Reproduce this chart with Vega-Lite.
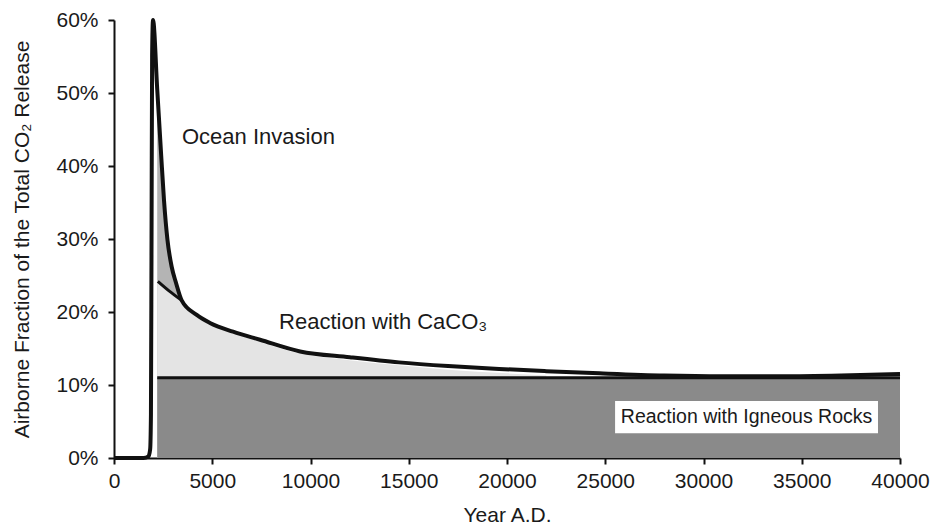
{
  "$schema": "https://vega.github.io/schema/vega-lite/v6.json",
  "width": 786,
  "height": 438,
  "autosize": {"type": "none"},
  "padding": {"left": 114, "top": 20, "right": 32, "bottom": 71},
  "background": "white",
  "config": {
    "view": {"stroke": null},
    "font": "Liberation Sans",
    "axis": {
      "grid": false,
      "domainColor": "#111",
      "domainWidth": 2,
      "tickColor": "#111",
      "tickWidth": 2,
      "tickSize": 6,
      "labelFlush": false,
      "labelFont": "Liberation Sans",
      "labelFontSize": 21,
      "labelColor": "#1a1a1a",
      "titleFont": "Liberation Sans",
      "titleFontSize": 21,
      "titleFontWeight": "normal",
      "titleColor": "#1a1a1a"
    }
  },
  "datasets": {
    "total": [
      {"year": 0, "v": 0}, {"year": 1500, "v": 0}, {"year": 1750, "v": 0.002},
      {"year": 1840, "v": 0.012}, {"year": 1880, "v": 0.06}, {"year": 1910, "v": 0.3},
      {"year": 1940, "v": 0.55}, {"year": 1985, "v": 0.6}, {"year": 2200, "v": 0.505},
      {"year": 2400, "v": 0.415}, {"year": 2545, "v": 0.353}, {"year": 2720, "v": 0.299},
      {"year": 2935, "v": 0.262}, {"year": 3155, "v": 0.24}, {"year": 3445, "v": 0.216},
      {"year": 4210, "v": 0.196}, {"year": 4885, "v": 0.185},
      {"year": 6060, "v": 0.173}, {"year": 7430, "v": 0.162}, {"year": 9470, "v": 0.146},
      {"year": 12000, "v": 0.138}, {"year": 14500, "v": 0.131}, {"year": 17000, "v": 0.126},
      {"year": 19600, "v": 0.122}, {"year": 22000, "v": 0.119}, {"year": 24700, "v": 0.116},
      {"year": 28000, "v": 0.113}, {"year": 31000, "v": 0.112}, {"year": 34000, "v": 0.112},
      {"year": 37000, "v": 0.113}, {"year": 40000, "v": 0.115}
    ],
    "ocean": [
      {"year": 2200, "v": 0.505}, {"year": 2400, "v": 0.415}, {"year": 2545, "v": 0.353},
      {"year": 2720, "v": 0.299}, {"year": 2935, "v": 0.262}, {"year": 3155, "v": 0.24},
      {"year": 3445, "v": 0.216}
    ],
    "caco3": [
      {"year": 2230, "v": 0.242}, {"year": 2800, "v": 0.229}, {"year": 3445, "v": 0.216}
    ],
    "light": [
      {"year": 2200, "v": 0.243}, {"year": 2800, "v": 0.229}, {"year": 3445, "v": 0.214},
      {"year": 4210, "v": 0.194}, {"year": 4885, "v": 0.183},
      {"year": 6060, "v": 0.171}, {"year": 7430, "v": 0.159}, {"year": 9470, "v": 0.143},
      {"year": 12000, "v": 0.134}, {"year": 14500, "v": 0.127}, {"year": 17000, "v": 0.121},
      {"year": 20000, "v": 0.116}, {"year": 22000, "v": 0.113}
    ],
    "igneous": [
      {"x0": 2200, "x1": 40000, "lo": 0, "hi": 0.11}
    ],
    "labels": [
      {"year": 3460, "v": 0.44, "text": "Ocean Invasion"},
      {"year": 8400, "v": 0.186, "text": "Reaction with CaCO₃"}
    ],
    "box": [
      {"x0": 25500, "x1": 38880, "lo": 0.034, "hi": 0.078, "xc": 32190, "yc": 0.056, "text": "Reaction with Igneous Rocks"}
    ]
  },
  "layer": [
    {
      "data": {"name": "ocean"},
      "mark": {"type": "area", "color": "#b4b4b4", "opacity": 1, "interpolate": "monotone"},
      "encoding": {
        "x": {"field": "year", "type": "quantitative", "scale": {"domain": [0, 40000]},
          "axis": {"values": [0, 5000, 10000, 15000, 20000, 25000, 30000, 35000, 40000], "format": "d", "title": "Year A.D.", "labelPadding": 6, "titlePadding": 13}},
        "y": {"field": "v", "type": "quantitative", "scale": {"domain": [0, 0.6]},
          "axis": {"values": [0, 0.1, 0.2, 0.3, 0.4, 0.5, 0.6], "format": ".0%", "title": "Airborne Fraction of the Total CO₂ Release", "labelPadding": 10, "titlePadding": 23}},
        "y2": {"datum": 0}
      }
    },
    {
      "data": {"name": "light"},
      "mark": {"type": "area", "color": "#e4e4e4", "opacity": 1, "interpolate": "monotone"},
      "encoding": {
        "x": {"field": "year", "type": "quantitative"},
        "y": {"field": "v", "type": "quantitative"},
        "y2": {"datum": 0}
      }
    },
    {
      "data": {"name": "igneous"},
      "mark": {"type": "rect", "color": "#8a8a8a"},
      "encoding": {
        "x": {"field": "x0", "type": "quantitative"},
        "x2": {"field": "x1"},
        "y": {"field": "lo", "type": "quantitative"},
        "y2": {"field": "hi"}
      }
    },
    {
      "data": {"name": "igneous"},
      "mark": {"type": "rule", "color": "#111", "strokeWidth": 3},
      "encoding": {
        "x": {"field": "x0", "type": "quantitative"},
        "x2": {"field": "x1"},
        "y": {"field": "hi", "type": "quantitative"}
      }
    },
    {
      "data": {"name": "caco3"},
      "mark": {"type": "line", "color": "#111", "strokeWidth": 3, "interpolate": "monotone"},
      "encoding": {
        "x": {"field": "year", "type": "quantitative"},
        "y": {"field": "v", "type": "quantitative"}
      }
    },
    {
      "data": {"name": "total"},
      "mark": {"type": "line", "color": "#111", "strokeWidth": 4, "interpolate": "monotone", "strokeJoin": "miter"},
      "encoding": {
        "x": {"field": "year", "type": "quantitative"},
        "y": {"field": "v", "type": "quantitative"}
      }
    },
    {
      "data": {"name": "labels"},
      "mark": {"type": "text", "align": "left", "baseline": "middle", "fontSize": 22, "color": "#1a1a1a", "font": "Liberation Sans"},
      "encoding": {
        "x": {"field": "year", "type": "quantitative"},
        "y": {"field": "v", "type": "quantitative"},
        "text": {"field": "text"}
      }
    },
    {
      "data": {"name": "box"},
      "mark": {"type": "rect", "color": "white"},
      "encoding": {
        "x": {"field": "x0", "type": "quantitative"},
        "x2": {"field": "x1"},
        "y": {"field": "lo", "type": "quantitative"},
        "y2": {"field": "hi"}
      }
    },
    {
      "data": {"name": "box"},
      "mark": {"type": "text", "align": "center", "baseline": "middle", "fontSize": 19.5, "color": "#1a1a1a", "font": "Liberation Sans"},
      "encoding": {
        "x": {"field": "xc", "type": "quantitative"},
        "y": {"field": "yc", "type": "quantitative"},
        "text": {"field": "text"}
      }
    }
  ]
}
